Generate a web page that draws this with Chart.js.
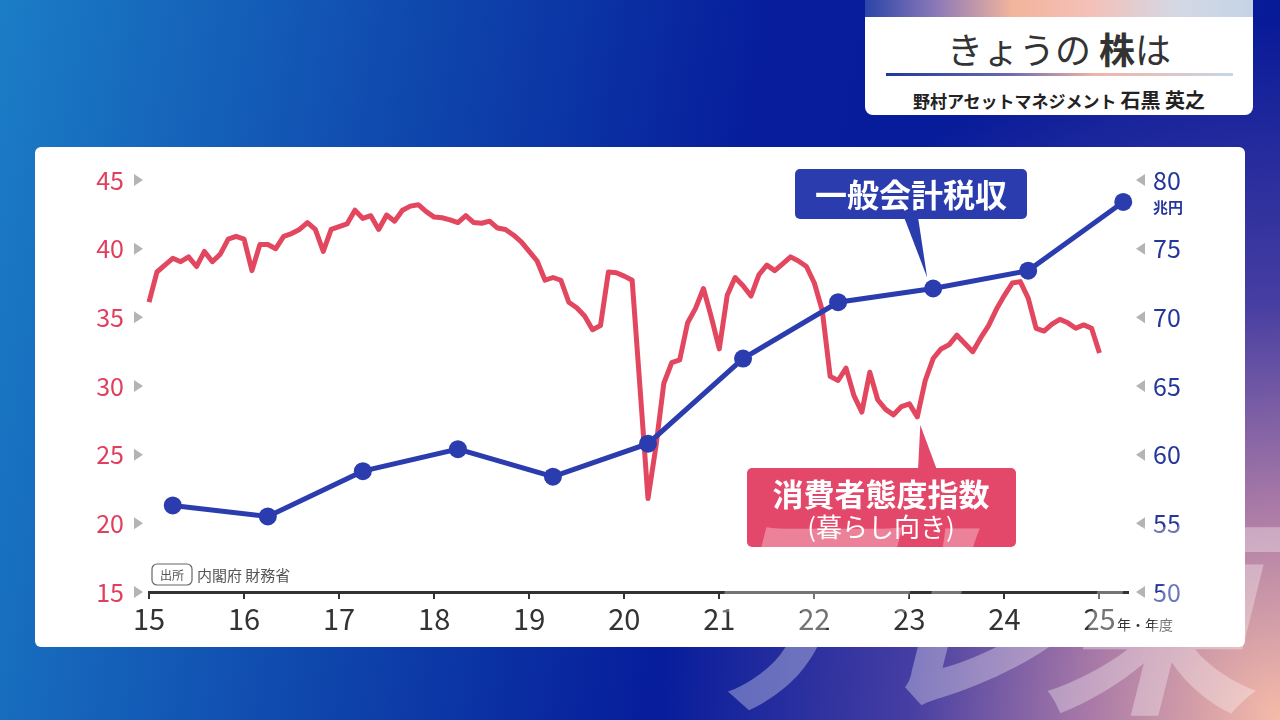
<!DOCTYPE html>
<html>
<head>
<meta charset="utf-8">
<script src="https://cdn.jsdelivr.net/npm/chart.js@4.4.1/dist/chart.umd.min.js"></script>
<style>
  body {
    margin: 0; width: 1280px; height: 720px; overflow: hidden; position: relative;
    font-family: "Noto Sans CJK JP", "Noto Sans", sans-serif;
    background:
      radial-gradient(ellipse 620px 700px at 100% 100%, rgba(246,188,168,1) 0%, rgba(200,140,170,.85) 30%, rgba(120,90,170,.55) 60%, rgba(40,40,160,0) 100%),
      linear-gradient(100deg, #1b7dc6 0%, #0f48ad 30%, #071d9b 55%, #081a97 100%);
  }
  #panel { position: absolute; left: 35px; top: 147px; width: 1210px; height: 500px; background: #fff; border-radius: 6px; }
  #hdr { position: absolute; left: 865px; top: 0; width: 388px; height: 115px; background: #fff; border-radius: 0 0 8px 8px; overflow: hidden; }
  #hdr .bar { height: 17px; background: linear-gradient(90deg, #2b45a8 0%, #8a78b8 18%, #f2b49c 38%, #f4c0b8 58%, #d4d8e4 80%, #c4d4e4 100%); }
  #hdr .t { position: absolute; top: 24px; left: 0; width: 100%; text-align: center; font-size: 36px; color: #333; line-height: 48px; }
  #hdr .t b { font-weight: bold; }
  #hdr .line { position: absolute; left: 21px; top: 73px; width: 347px; height: 3px; background: linear-gradient(90deg, #1e3a9c, #6a68b0 35%, #f0b4a8 60%, #c8d6e6); }
  #hdr .s { position: absolute; top: 85px; width: 100%; text-align: center; font-weight: bold; font-size: 17px; color: #222; }
  #hdr .s span { font-size: 20px; }
  canvas { position: absolute; left: 0; top: 0; }
  .wm { position: absolute; top: 490px; font-size: 220px; line-height: 220px; font-weight: bold; font-style: italic;
        color: rgba(255,255,255,.32); }
</style>
</head>
<body>
<div id="panel"></div>
<div id="hdr">
  <div class="bar"></div>
  <div class="t">きょうの <b>株</b>は</div>
  <div class="line"></div>
  <div class="s">野村アセットマネジメント <span>石黒 英之</span></div>
</div>
<canvas id="c" width="1280" height="720"></canvas>
<div class="wm" style="left:680px">テ</div>
<div class="wm" style="left:860px">レ</div>
<div class="wm" style="left:1040px">東</div>
<script>
// 一般会計税収 (兆円) 年度
const fiscalYears = [2015, 2016, 2017, 2018, 2019, 2020, 2021, 2022, 2023, 2024, 2025];
const taxRevenue = [56.3, 55.5, 58.8, 60.4, 58.4, 60.8, 67.0, 71.1, 72.1, 73.4, 78.4];

// 消費者態度指数(暮らし向き) 月次 2015年1月〜
const cciStart = 2015;
const cci = [
  36.1, 38.3, 38.8, 39.3, 39.05, 39.4, 38.7, 39.8, 39.05, 39.6, 40.7, 40.9,
  40.7, 38.4, 40.3, 40.3, 40.0, 40.9, 41.1, 41.4, 41.9, 41.4, 39.8, 41.4,
  41.6, 41.8, 42.8, 42.2, 42.4, 41.4, 42.45, 42.0, 42.8, 43.1, 43.2, 42.7,
  42.3, 42.25, 42.1, 41.9, 42.4, 41.9, 41.85, 42.0, 41.5, 41.4, 41.0, 40.5,
  39.8, 39.1, 37.7, 37.9, 37.7, 36.1, 35.7, 35.1, 34.1, 34.4, 38.3, 38.25,
  38.0, 37.7, 29.8, 21.8, 25.6, 30.2, 31.7, 31.9, 34.6, 35.65, 37.1, 35.0,
  32.7, 36.6, 37.9, 37.3, 36.55, 38.1, 38.8, 38.4, 38.9, 39.4, 39.1, 38.7,
  37.5, 35.5, 30.7, 30.4, 31.3, 29.3, 28.1, 31.0, 29.0, 28.3, 27.9, 28.5,
  28.7, 27.75, 30.4, 32.0, 32.7, 33.0, 33.7, 33.1, 32.5, 33.5, 34.4, 35.6,
  36.6, 37.5, 37.6, 36.4, 34.2, 34.0, 34.5, 34.85, 34.6, 34.2, 34.45, 34.2,
  32.4
];

const xTicks = [2015, 2016, 2017, 2018, 2019, 2020, 2021, 2022, 2023, 2024, 2025];
const leftTicks = [15, 20, 25, 30, 35, 40, 45];
const rightTicks = [50, 55, 60, 65, 70, 75, 80];

const BLUE = '#2b3cae';
const RED = '#e2475f';

function rrect(ctx, x, y, w, h, r) {
  ctx.beginPath();
  ctx.moveTo(x + r, y);
  ctx.arcTo(x + w, y, x + w, y + h, r);
  ctx.arcTo(x + w, y + h, x, y + h, r);
  ctx.arcTo(x, y + h, x, y, r);
  ctx.arcTo(x, y, x + w, y, r);
  ctx.closePath();
}

const deco = {
  id: 'deco',
  afterDraw(chart) {
    const { ctx, scales: { x, y, y2 } } = chart;
    ctx.save();
    // triangles next to tick labels
    ctx.fillStyle = '#b4b4b4';
    y.ticks.forEach(t => {
      const py = y.getPixelForValue(t.value);
      ctx.beginPath(); ctx.moveTo(134, py - 6); ctx.lineTo(143, py); ctx.lineTo(134, py + 6); ctx.fill();
    });
    y2.ticks.forEach(t => {
      const py = y2.getPixelForValue(t.value);
      ctx.beginPath(); ctx.moveTo(1145, py - 6); ctx.lineTo(1136, py); ctx.lineTo(1145, py + 6); ctx.fill();
    });
    // units
    ctx.fillStyle = '#26379c';
    ctx.font = 'bold 15px "Noto Sans CJK JP"';
    ctx.textAlign = 'left'; ctx.textBaseline = 'middle';
    ctx.fillText('兆円', 1153, y2.getPixelForValue(80) + 27);
    ctx.fillStyle = '#333';
    ctx.font = '14px "Noto Sans CJK JP"';
    ctx.fillText('年・年度', 1117, 625);

    // source
    ctx.strokeStyle = '#666'; ctx.lineWidth = 1.2;
    rrect(ctx, 152, 564, 40, 21, 5); ctx.stroke();
    ctx.fillStyle = '#555';
    ctx.font = '12px "Noto Sans CJK JP"'; ctx.textAlign = 'center';
    ctx.fillText('出所', 172, 575);
    ctx.font = '15px "Noto Sans CJK JP"'; ctx.textAlign = 'left';
    ctx.fillText('内閣府 財務省', 197, 575);

    // blue callout
    const bi = fiscalYears.indexOf(2023);
    const bx = x.getPixelForValue(fiscalYears[bi] + 0.25) - 6;
    const by = y2.getPixelForValue(taxRevenue[bi]) - 11;
    ctx.fillStyle = BLUE;
    rrect(ctx, 795, 169, 232, 50, 5); ctx.fill();
    ctx.beginPath(); ctx.moveTo(904, 217); ctx.lineTo(918, 217); ctx.lineTo(bx, by); ctx.closePath(); ctx.fill();
    ctx.fillStyle = '#fff';
    ctx.font = 'bold 32px "Noto Sans CJK JP"'; ctx.textAlign = 'center';
    ctx.fillText('一般会計税収', 911, 195);

    // red callout
    const ri = 97;
    const rx = x.getPixelForValue(cciStart + ri / 12) + 3;
    const ry = y.getPixelForValue(cci[ri]) + 8;
    ctx.fillStyle = '#e3486a';
    rrect(ctx, 747, 468, 269, 79, 5); ctx.fill();
    ctx.beginPath(); ctx.moveTo(918, 470); ctx.lineTo(937, 470); ctx.lineTo(rx, ry); ctx.closePath(); ctx.fill();
    ctx.fillStyle = '#fff';
    ctx.font = 'bold 31px "Noto Sans CJK JP"';
    ctx.fillText('消費者態度指数', 881, 494);
    ctx.font = '26px "Noto Sans CJK JP"';
    ctx.fillText('(暮らし向き)', 881, 527);
    ctx.restore();
  }
};

new Chart(document.getElementById('c'), {
  type: 'line',
  data: {
    datasets: [
      {
        label: '一般会計税収',
        data: fiscalYears.map((fy, i) => ({ x: fy + 0.25, y: taxRevenue[i] })),
        yAxisID: 'y2',
        borderColor: BLUE,
        backgroundColor: BLUE,
        borderWidth: 5,
        pointRadius: 9,
        pointBackgroundColor: BLUE,
        pointBorderWidth: 0,
        clip: false
      },
      {
        label: '消費者態度指数',
        data: cci.map((v, i) => ({ x: cciStart + i / 12, y: v })),
        yAxisID: 'y',
        borderColor: RED,
        borderWidth: 5,
        pointRadius: 0,
        borderJoinStyle: 'round',
        clip: false
      }
    ]
  },
  options: {
    responsive: false,
    animation: false,
    devicePixelRatio: 1,
    layout: { padding: { top: 180, left: 0, right: 0, bottom: 0 } },
    plugins: { legend: { display: false }, tooltip: { enabled: false } },
    scales: {
      x: {
        type: 'linear',
        min: 2015,
        max: 2025.3,
        afterFit: s => { s.height = 128; },
        afterBuildTicks: s => { s.ticks = xTicks.map(v => ({ value: v })); },
        ticks: {
          callback: v => String(v).slice(2),
          color: '#333',
          font: { size: 29, family: '"Noto Sans CJK JP"' },
          padding: 3,
          maxRotation: 0
        },
        grid: { drawOnChartArea: false, drawTicks: true, tickLength: 7, color: '#333', lineWidth: 2 },
        border: { color: '#333', width: 3 }
      },
      y: {
        position: 'left',
        min: 15,
        max: 45,
        afterFit: s => { s.width = 149; },
        afterBuildTicks: s => { s.ticks = leftTicks.map(v => ({ value: v })); },
        ticks: { color: '#e0405e', font: { size: 25, family: '"Noto Sans CJK JP"' }, padding: 25 },
        grid: { display: false, drawTicks: false },
        border: { display: false }
      },
      y2: {
        position: 'right',
        min: 50,
        max: 80,
        afterFit: s => { s.width = 152; },
        afterBuildTicks: s => { s.ticks = rightTicks.map(v => ({ value: v })); },
        ticks: { color: '#26379c', font: { size: 25, family: '"Noto Sans CJK JP"' }, padding: 25 },
        grid: { display: false, drawTicks: false },
        border: { display: false }
      }
    }
  },
  plugins: [deco]
});
</script>
</body>
</html>
